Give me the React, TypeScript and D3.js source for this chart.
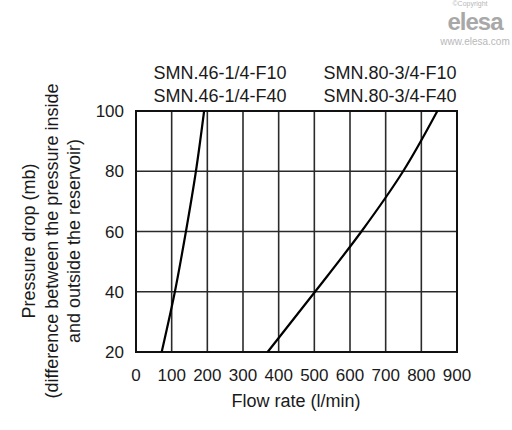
import React from 'react';
import * as d3 from 'd3';

const pressure = [20, 40, 60, 80, 100];
const flowSmn46 = [72, 109, 140, 168, 191];
const flowSmn80 = [369, 502, 632, 749, 845];
const xTicks = [0, 100, 200, 300, 400, 500, 600, 700, 800, 900];
const yTicks = [20, 40, 60, 80, 100];
const labels46 = ['SMN.46-1/4-F10', 'SMN.46-1/4-F40'];
const labels80 = ['SMN.80-3/4-F10', 'SMN.80-3/4-F40'];
const yTitle = [
  'Pressure drop (mb)',
  '(difference between the pressure inside',
  'and outside the reservoir)',
];

const W = 512;
const H = 430;
const font = '"Liberation Sans", Arial, sans-serif';

const App: React.FC = () => {
  const x = d3.scaleLinear().domain([0, 900]).range([136, 457]);
  const y = d3.scaleLinear().domain([20, 100]).range([352, 111]);

  const line = d3
    .line<[number, number]>()
    .x(d => x(d[0]))
    .y(d => y(d[1]))
    .curve(d3.curveMonotoneY);

  const pts = (flows: number[]) => flows.map((f, i) => [f, pressure[i]] as [number, number]);

  return (
    <svg
      width={W}
      height={H}
      style={{ position: 'absolute', left: 0, top: 0, background: '#fff' }}
      fontFamily={font}
    >
      {/* watermark */}
      <g fill="#b8b8b8" textAnchor="middle">
        <text x={470} y={5.5} fontSize={7}>©Copyright</text>
        <text x={475} y={30} fontSize={24} fontWeight={900} fill="#a8a8a8" letterSpacing={-1}>elesa</text>
        <text x={475} y={45} fontSize={10}>www.elesa.com</text>
      </g>

      {/* grid */}
      <g stroke="#2a2a2a" strokeWidth={1.6}>
        {xTicks.slice(1, -1).map(t => (
          <line key={'gx' + t} x1={x(t)} x2={x(t)} y1={y(100)} y2={y(20)} />
        ))}
        {yTicks.slice(1, -1).map(t => (
          <line key={'gy' + t} x1={x(0)} x2={x(900)} y1={y(t)} y2={y(t)} />
        ))}
      </g>
      <rect
        x={x(0)}
        y={y(100)}
        width={x(900) - x(0)}
        height={y(20) - y(100)}
        fill="none"
        stroke="#111"
        strokeWidth={2}
      />

      {/* curves */}
      <path d={line(pts(flowSmn46)) || ''} fill="none" stroke="#000" strokeWidth={2.2} />
      <path d={line(pts(flowSmn80)) || ''} fill="none" stroke="#000" strokeWidth={2.2} />

      {/* ticks */}
      <g fill="#1a1a1a" fontSize={17}>
        {xTicks.map(t => (
          <text key={'tx' + t} x={x(t)} y={381} textAnchor="middle">{t}</text>
        ))}
        {yTicks.map(t => (
          <text key={'ty' + t} x={124} y={y(t) + 6} textAnchor="end">{t}</text>
        ))}
      </g>

      {/* series labels */}
      <g fill="#1a1a1a" fontSize={18}>
        {labels46.map((l, i) => (
          <text key={l} x={220} y={79 + i * 23} textAnchor="middle">{l}</text>
        ))}
        {labels80.map((l, i) => (
          <text key={l} x={390} y={79 + i * 23} textAnchor="middle">{l}</text>
        ))}
      </g>

      {/* axis titles */}
      <text x={296} y={407} textAnchor="middle" fontSize={18} fill="#1a1a1a">Flow rate (l/min)</text>
      {yTitle.map((l, i) => (
        <text
          key={l}
          transform={`translate(${35 + i * 22.5},241) rotate(-90)`}
          textAnchor="middle"
          fontSize={18}
          fill="#1a1a1a"
        >
          {l}
        </text>
      ))}
    </svg>
  );
};

export default App;
